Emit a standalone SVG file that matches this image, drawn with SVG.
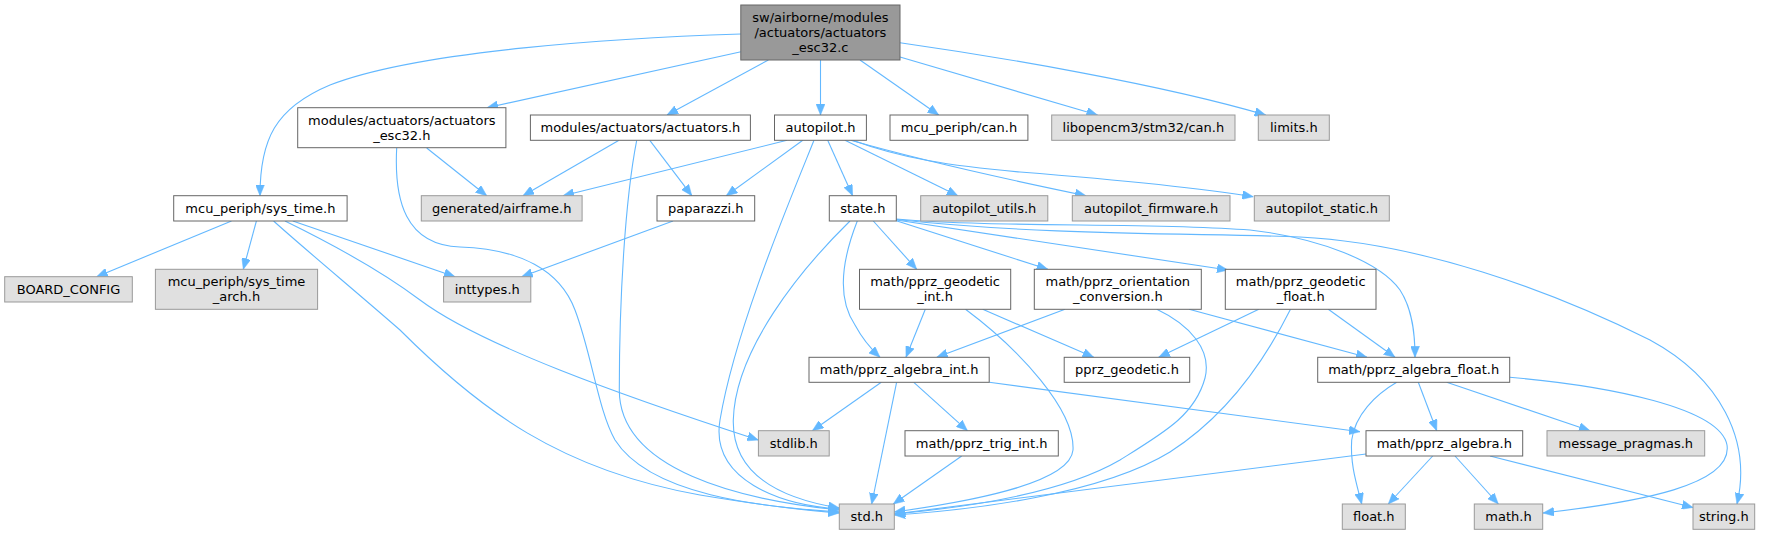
<svg xmlns="http://www.w3.org/2000/svg" width="1769" height="535" viewBox="0 0 1769 535">
<style>
rect.w{fill:#ffffff;stroke:#666666;stroke-width:1}
rect.g{fill:#e0e0e0;stroke:#999999;stroke-width:1}
rect.m{fill:#999999;stroke:#666666;stroke-width:1}
text{font-family:"DejaVu Sans","Liberation Sans",sans-serif;font-size:13px;fill:#000000;text-anchor:middle}
#edges path{fill:none;stroke:#63b8ff;stroke-width:1.1;marker-end:url(#arr)}
</style>
<defs>
<marker id="arr" markerUnits="userSpaceOnUse" markerWidth="11" markerHeight="9" viewBox="0 0 11 9" refX="11" refY="4.5" orient="auto">
<path d="M0,0 L11,4.5 L0,9 z" fill="#63b8ff" stroke="#63b8ff" stroke-width="0.5"/>
</marker>
</defs>
<rect width="1769" height="535" fill="#ffffff"/>
<g id="edges">
<path d="M741,34 C620,38 420,50 330,85 C275,108 260,140 260,195.7"/>
<path d="M741,51.7 L487,107.7"/>
<path d="M768.4,60 L667,115"/>
<path d="M820.5,60 L820.5,115"/>
<path d="M860,60 L938.7,115"/>
<path d="M900,57 L1097.5,115"/>
<path d="M900,42.7 C1000,57 1160,84 1265.7,115"/>
<path d="M426.7,148 L486.7,195.7"/>
<path d="M396.7,148 C394,200 405,245 460,247 C520,249 560,270 575,310 C592,355 598,410 615,440 C650,495 760,507 839.3,512"/>
<path d="M619,140.3 L523,195.7"/>
<path d="M636.7,140.3 C625,200 619.3,300 619.3,390 C619.3,470 740,500 839.3,510"/>
<path d="M649.8,140.3 L691.8,195.7"/>
<path d="M787,140.3 L563,195.7"/>
<path d="M802.8,140.3 L726.3,195.7"/>
<path d="M814,140.3 C790,200 735,330 720,420 C710,480 780,505 839.3,509"/>
<path d="M827.7,140.3 L852.6,195.7"/>
<path d="M845,140.3 L957.8,195.7"/>
<path d="M850.7,140.3 C920,160 1000,178 1086,195.7"/>
<path d="M852.6,140.3 C900,158 950,166 1020,172 C1120,180 1200,188 1253.3,196.7"/>
<path d="M231.5,221 L96.7,276.7"/>
<path d="M256.4,221 L243.3,269.3"/>
<path d="M273.6,221 C300,245 360,295 400,330 C480,410 560,470 700,495 C760,505 800,510 839.3,513"/>
<path d="M285,221 C330,243 380,270 420,300 C480,345 620,395 758.3,440"/>
<path d="M292.8,221 L455,276.7"/>
<path d="M673,221 L521.7,276.7"/>
<path d="M850,221 C800,270 735,350 733.3,420 C732,480 790,500 839.3,508"/>
<path d="M857.3,221 C840,265 838,300 855,325 C862,338 870,348 880,357.3"/>
<path d="M873.3,221 L916.7,269.3"/>
<path d="M896.3,220.7 L1047.8,269.3"/>
<path d="M896.3,220 L1228,270"/>
<path d="M896.3,219 C1000,228 1150,222 1250,230 C1320,238 1380,262 1400,290 C1413,310 1415,335 1415,357.3"/>
<path d="M896.3,219.5 C1050,236 1200,233 1300,237 C1420,243 1550,290 1650,340 C1720,378 1752,440 1737,504"/>
<path d="M925.3,309.3 L906,357.3"/>
<path d="M982.7,309.3 L1093.7,357.3"/>
<path d="M965.5,309.3 C1020,350 1075,410 1073,450 C1070,485 960,503 894.3,512"/>
<path d="M1065,309.3 L936.8,357.3"/>
<path d="M1189,309.3 L1367,357.3"/>
<path d="M1156.8,309.3 C1190,325 1212,350 1205,378 C1195,415 1165,432 1120,460 C1060,495 960,508 894.3,514"/>
<path d="M1258.8,309.3 L1158.7,357.3"/>
<path d="M1328.3,309.3 L1395,357.3"/>
<path d="M1290.5,309.3 C1260,370 1220,420 1170,452 C1100,495 970,510 894.3,515"/>
<path d="M881.3,382.3 L812.4,430.7"/>
<path d="M896.6,382.3 L871.7,504"/>
<path d="M913.8,382.3 L967.4,430.7"/>
<path d="M989.2,382.3 L1360,431.7"/>
<path d="M961.7,456 L893.3,504"/>
<path d="M1396.7,382.3 C1375,395 1355,415 1351.7,440 C1350,465 1357,485 1361.7,504"/>
<path d="M1418.3,382.3 L1436.7,430.7"/>
<path d="M1446.7,382.3 L1590,430.7"/>
<path d="M1509.7,377.3 C1610,386 1720,408 1727,445 C1733,485 1640,502 1543,513"/>
<path d="M1366,454 L894.3,514"/>
<path d="M1432.7,456 L1388.3,504"/>
<path d="M1455,456 L1498.3,504"/>
<path d="M1490,456 L1693,507.5"/>
</g>
<g id="n_main"><rect class="m" x="740.8" y="5" width="159.2" height="55"/><text x="820.4" y="22">sw/airborne/modules</text><text x="820.4" y="37">/actuators/actuators</text><text x="820.4" y="52">_esc32.c</text></g>
<g id="n_aesc32h"><rect class="w" x="297.7" y="107.7" width="208.2" height="40"/><text x="401.8" y="124.7">modules/actuators/actuators</text><text x="401.8" y="139.7">_esc32.h</text></g>
<g id="n_acth"><rect class="w" x="530.4" y="115" width="220" height="25.3"/><text x="640.4" y="132.2">modules/actuators/actuators.h</text></g>
<g id="n_autop"><rect class="w" x="774.5" y="115" width="91.9" height="25.3"/><text x="820.5" y="132.2">autopilot.h</text></g>
<g id="n_can"><rect class="w" x="890" y="115" width="137.9" height="25.3"/><text x="959" y="132.2">mcu_periph/can.h</text></g>
<g id="n_libcan"><rect class="g" x="1051.7" y="115" width="183.3" height="25.3"/><text x="1143.4" y="132.2">libopencm3/stm32/can.h</text></g>
<g id="n_limits"><rect class="g" x="1258.3" y="115" width="71" height="25.3"/><text x="1293.8" y="132.2">limits.h</text></g>
<g id="n_systime"><rect class="w" x="173.7" y="195.7" width="173.4" height="25.3"/><text x="260.4" y="212.8">mcu_periph/sys_time.h</text></g>
<g id="n_airframe"><rect class="g" x="421.3" y="195.7" width="160.8" height="25.3"/><text x="501.7" y="212.8">generated/airframe.h</text></g>
<g id="n_paparazzi"><rect class="w" x="657" y="195.7" width="97.7" height="25.3"/><text x="705.8" y="212.8">paparazzi.h</text></g>
<g id="n_state"><rect class="w" x="829.3" y="195.7" width="67" height="25.3"/><text x="862.8" y="212.8">state.h</text></g>
<g id="n_aputils"><rect class="g" x="920.7" y="195.7" width="127.1" height="25.3"/><text x="984.3" y="212.8">autopilot_utils.h</text></g>
<g id="n_apfw"><rect class="g" x="1072.3" y="195.7" width="157.7" height="25.3"/><text x="1151.1" y="212.8">autopilot_firmware.h</text></g>
<g id="n_apstatic"><rect class="g" x="1254.3" y="195.7" width="135" height="25.3"/><text x="1321.8" y="212.8">autopilot_static.h</text></g>
<g id="n_board"><rect class="g" x="4.7" y="276.7" width="127.6" height="25.3"/><text x="68.5" y="293.8">BOARD_CONFIG</text></g>
<g id="n_sysarch"><rect class="g" x="155.4" y="269.3" width="162.2" height="40"/><text x="236.5" y="286.3">mcu_periph/sys_time</text><text x="236.5" y="301.3">_arch.h</text></g>
<g id="n_inttypes"><rect class="g" x="443.6" y="276.7" width="87.2" height="25.3"/><text x="487.2" y="293.8">inttypes.h</text></g>
<g id="n_gint"><rect class="w" x="859.5" y="269.3" width="151.2" height="40"/><text x="935.1" y="286.3">math/pprz_geodetic</text><text x="935.1" y="301.3">_int.h</text></g>
<g id="n_orient"><rect class="w" x="1034.3" y="269.3" width="167" height="40"/><text x="1117.8" y="286.3">math/pprz_orientation</text><text x="1117.8" y="301.3">_conversion.h</text></g>
<g id="n_gfloat"><rect class="w" x="1225.3" y="269.3" width="150.7" height="40"/><text x="1300.7" y="286.3">math/pprz_geodetic</text><text x="1300.7" y="301.3">_float.h</text></g>
<g id="n_algint"><rect class="w" x="809" y="357.3" width="180.2" height="25"/><text x="899.1" y="374.3">math/pprz_algebra_int.h</text></g>
<g id="n_pgeo"><rect class="w" x="1064.2" y="357.3" width="125.5" height="25"/><text x="1127" y="374.3">pprz_geodetic.h</text></g>
<g id="n_algfloat"><rect class="w" x="1317.7" y="357.3" width="192" height="25"/><text x="1413.7" y="374.3">math/pprz_algebra_float.h</text></g>
<g id="n_stdlib"><rect class="g" x="758.4" y="430.7" width="70.8" height="25.3"/><text x="793.8" y="447.8">stdlib.h</text></g>
<g id="n_trig"><rect class="w" x="905" y="430.7" width="153.3" height="25.3"/><text x="981.7" y="447.8">math/pprz_trig_int.h</text></g>
<g id="n_alg"><rect class="w" x="1366" y="430.7" width="156.7" height="25.3"/><text x="1444.3" y="447.8">math/pprz_algebra.h</text></g>
<g id="n_msgp"><rect class="g" x="1547" y="430.7" width="157.7" height="25.3"/><text x="1625.8" y="447.8">message_pragmas.h</text></g>
<g id="n_std"><rect class="g" x="839.3" y="504" width="55" height="25.3"/><text x="866.8" y="521.2">std.h</text></g>
<g id="n_float"><rect class="g" x="1342.3" y="504" width="63" height="25.3"/><text x="1373.8" y="521.2">float.h</text></g>
<g id="n_math"><rect class="g" x="1474.3" y="504" width="68.4" height="25.3"/><text x="1508.5" y="521.2">math.h</text></g>
<g id="n_string"><rect class="g" x="1693" y="504" width="61.7" height="25.3"/><text x="1723.8" y="521.2">string.h</text></g>
</svg>
